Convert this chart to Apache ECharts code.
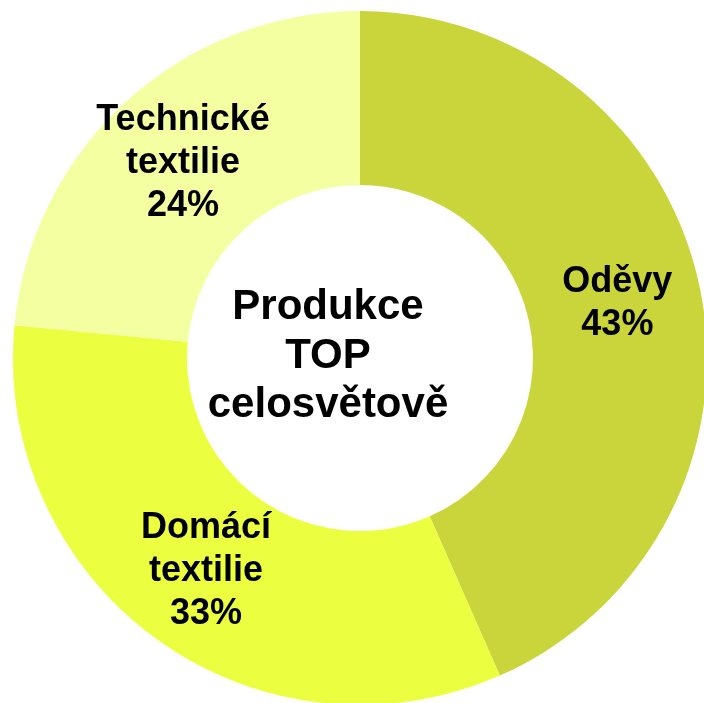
<!DOCTYPE html>
<html>
<head>
<meta charset="utf-8">
<script src="https://cdn.jsdelivr.net/npm/echarts@6/dist/echarts.min.js"></script>
<style>html,body{margin:0;padding:0;background:#fff;}#c{width:704px;height:703px;}</style>
</head>
<body>
<div id="c"></div>
<script>
const categories = ['Oděvy', 'Domácí\ntextilie', 'Technické\ntextilie'];
const values = [43.4, 33.1, 23.5];
const colors = ['#c9d53a', '#ebff40', '#f4ffa2'];
const centerText = 'Produkce\nTOP\ncelosvětově';

const chart = echarts.init(document.getElementById('c'));
chart.setOption({
  animation: false,
  backgroundColor: '#ffffff',
  graphic: [{
    type: 'text',
    x: 328, y: 356,
    style: {
      text: centerText,
      fill: '#000',
      font: 'bold 42px "Liberation Sans", Arial, sans-serif',
      lineHeight: 49,
      align: 'center',
      verticalAlign: 'middle'
    },
    z: 100
  }],
  series: [{
    type: 'pie',
    center: [360, 358],
    radius: [173, 347],
    startAngle: 90,
    clockwise: true,
    data: categories.map((c, i) => ({ name: c, value: values[i], itemStyle: { color: colors[i] } })),
    label: {
      show: true,
      position: 'inside',
      formatter: p => p.name + '\n' + Math.round(p.percent) + '%',
      color: '#000',
      fontFamily: '"Liberation Sans", Arial, sans-serif',
      fontWeight: 'bold',
      fontSize: 36,
      lineHeight: 43,
      align: 'center'
    },
    labelLine: { show: false },
    emphasis: { disabled: true }
  }]
});
</script>
</body>
</html>
